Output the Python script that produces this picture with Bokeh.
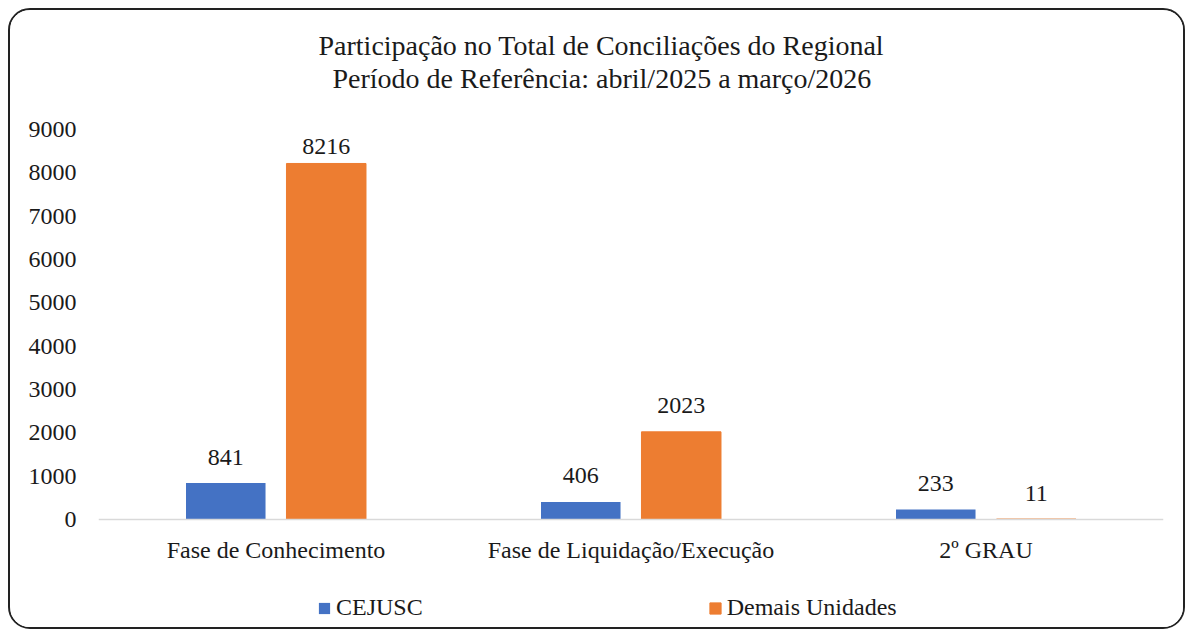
import numpy as np
from bokeh.plotting import figure
from bokeh.models import (ColumnDataSource, FactorRange, Range1d, Title, Legend,
                          LegendItem, FixedTicker)
from bokeh.transform import dodge
from bokeh.core.properties import value
from bokeh.embed import file_html
from bokeh.resources import INLINE

# ---------------- data ----------------
categories = ["Fase de Conhecimento", "Fase de Liquidação/Execução", "2º GRAU"]
cejusc = [841, 406, 233]
demais = [8216, 2023, 11]
series_names = ["CEJUSC", "Demais Unidades"]
title_lines = ["Participação no Total de Conciliações do Regional",
               "Período de Referência: abril/2025 a março/2026"]
y_ticks = [0, 1000, 2000, 3000, 4000, 5000, 6000, 7000, 8000, 9000]

# ---------------- style ----------------
FONT = "'Liberation Serif', 'Times New Roman', serif"
TXT = "#1a1a1a"
BLUE = "#4472C4"
ORANGE = "#ED7D31"
Y_MAX = 9000
FRAME_H = 390          # pixels between 0 and Y_MAX
BELOW_PX = 104         # room under the zero line for category labels + legend
GAP_PX = 26            # value label offset above bar top
TOP_PAD_PX = 17        # labels may not go above this distance under Y_MAX
px = Y_MAX / FRAME_H
Y_MIN = -BELOW_PX * px

def label_y(vals):
    v = np.array(vals, dtype=float)
    return np.minimum(v + GAP_PX * px, Y_MAX - TOP_PAD_PX * px)

src = ColumnDataSource(dict(
    cat=categories,
    cejusc=cejusc,
    demais=demais,
    cejusc_lbl=[str(v) for v in cejusc],
    demais_lbl=[str(v) for v in demais],
    cejusc_ly=label_y(cejusc),
    demais_ly=label_y(demais),
))

p = figure(x_range=FactorRange(*categories), y_range=Range1d(Y_MIN, Y_MAX),
           width=1177, height=621, output_backend="svg", toolbar_location=None,
           min_border_left=88, min_border_right=24, min_border_top=119,
           min_border_bottom=8)
p.styles = {"border": "2px solid #222222", "border-radius": "22px",
            "overflow": "hidden", "margin-left": "8px", "margin-top": "8px"}
p.outline_line_color = None
p.background_fill_color = "white"
p.border_fill_color = "white"
p.xgrid.visible = False
p.ygrid.visible = False

OFF = 0.1415
W = 0.224
r1 = p.vbar(x=dodge("cat", -OFF, range=p.x_range), top="cejusc", bottom=0, width=W,
            source=src, fill_color=BLUE, line_color=None)
r2 = p.vbar(x=dodge("cat", OFF, range=p.x_range), top="demais", bottom=0, width=W,
            source=src, fill_color=ORANGE, line_color=ORANGE, line_width=1)

for col, off in (("cejusc", -OFF), ("demais", OFF)):
    p.text(x=dodge("cat", off, range=p.x_range), y=col + "_ly", text=col + "_lbl", source=src,
           text_align="center", text_baseline="alphabetic", text_font=value(FONT),
           text_font_size="24px", text_color=TXT)

# axes
p.yaxis.ticker = FixedTicker(ticks=y_ticks)
p.yaxis.axis_line_color = None
p.yaxis.major_tick_line_color = None
p.yaxis.minor_tick_line_color = None
p.yaxis.major_label_standoff = 16
p.yaxis.major_label_text_font = FONT
p.yaxis.major_label_text_font_size = "24px"
p.yaxis.major_label_text_color = TXT

p.xaxis.fixed_location = 0
p.xaxis.axis_line_color = "#D9D9D9"
p.xaxis.axis_line_width = 1.3
p.xaxis.major_tick_line_color = None
p.xaxis.minor_tick_line_color = None
p.xaxis.major_label_standoff = 11
p.xaxis.major_label_text_font = FONT
p.xaxis.major_label_text_font_size = "24px"
p.xaxis.major_label_text_color = TXT

# title: two lines, second line nearest the plot
p.add_layout(Title(text=title_lines[1], align="left", offset=234, standoff=72,
                   text_font=FONT, text_font_size="28px", text_font_style="normal",
                   text_color=TXT), "above")
p.add_layout(Title(text=title_lines[0], align="left", offset=220, standoff=-72,
                   text_font=FONT, text_font_size="28px", text_font_style="normal",
                   text_color=TXT), "above")

legend = Legend(items=[LegendItem(label=series_names[0], renderers=[r1]),
                       LegendItem(label=series_names[1], renderers=[r2])],
                orientation="horizontal", location=(219, 2),
                glyph_width=14, glyph_height=14, label_standoff=5,
                spacing=285, padding=0, margin=0,
                label_text_font=FONT, label_text_font_size="24px",
                label_text_color=TXT, border_line_alpha=0, background_fill_alpha=0)
p.add_layout(legend)

open("out.html", "w").write(file_html(p, INLINE))
